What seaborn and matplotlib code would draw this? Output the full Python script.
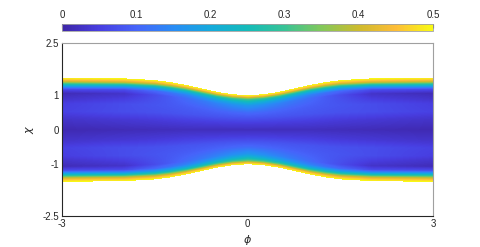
import numpy as np
import matplotlib
matplotlib.use("Agg")
import matplotlib.pyplot as plt
import seaborn as sns

# band half-width in chi versus |phi|
phi_edge = [0.0, 0.25, 0.5, 0.75, 1.0, 1.25, 1.5, 2.0, 3.0]
half_width = [1.0, 1.03, 1.1, 1.2, 1.3, 1.38, 1.44, 1.49, 1.51]

# colour value across the band, at relative height s = |chi| / half-width
s_levels = [0.0, 0.2, 0.35, 0.5, 0.6, 0.7, 0.78, 0.84, 0.88, 0.92, 0.96, 1.0]
prof_phi = [0.0, 1.0, 2.0, 3.0]
prof_0 = [0.02, 0.05, 0.08, 0.11, 0.14, 0.17, 0.22, 0.27, 0.31, 0.38, 0.46, 0.5]
prof_1 = [0.02, 0.05, 0.08, 0.09, 0.10, 0.11, 0.14, 0.20, 0.27, 0.37, 0.46, 0.5]
prof_2 = [0.015, 0.04, 0.07, 0.07, 0.05, 0.03, 0.07, 0.18, 0.28, 0.39, 0.46, 0.5]
prof_3 = [0.01, 0.03, 0.055, 0.05, 0.03, 0.015, 0.07, 0.19, 0.29, 0.39, 0.46, 0.5]

cbar_ticks = [0, 0.1, 0.2, 0.3, 0.4, 0.5]
x_ticks = [-3, 0, 3]
y_ticks = [-2.5, -1, 0, 1, 2.5]

parula_like = ["#3e26a8", "#483ee1", "#4664fa", "#288cf5", "#14aadc",
               "#14bbb9", "#37c396", "#82c85a", "#cdbb2d", "#fdbc37", "#f8fa14"]

sns.set_style("white")
plt.rcParams["font.family"] = ["Liberation Sans", "DejaVu Sans"]
cmap = sns.blend_palette(parula_like, as_cmap=True)

# sample the field on a pixel grid
phi = np.linspace(-3, 3, 742)
chi = np.linspace(-2.5, 2.5, 346)
P = np.array([prof_0, prof_1, prof_2, prof_3])
field = np.full((chi.size, phi.size), np.nan)
for j, p in enumerate(phi):
    a = abs(p)
    w = np.interp(a, phi_edge, half_width)
    col_prof = [np.interp(a, prof_phi, P[:, k]) for k in range(len(s_levels))]
    s = np.abs(chi) / w
    inside = s <= 1.0
    field[inside, j] = np.interp(s[inside], s_levels, col_prof)

fig = plt.figure(figsize=(4.8, 2.47), dpi=100)
ax = fig.add_axes([0.129, 0.1255, 0.773, 0.7])
cax = fig.add_axes([0.129, 0.8745, 0.773, 0.028])

im = ax.imshow(field, origin="lower", extent=[-3, 3, -2.5, 2.5], aspect="auto",
               cmap=cmap, vmin=0, vmax=0.5, interpolation="nearest")

ax.set_xlim(-3, 3)
ax.set_ylim(-2.5, 2.5)
ax.set_xticks(x_ticks)
ax.set_xticklabels([str(t) for t in x_ticks])
ax.set_yticks(y_ticks)
ax.set_yticklabels(["-2.5", "-1", "0", "1", "2.5"])
ax.tick_params(direction="in", length=2, labelsize=7, colors="#262626", pad=2)
ax.set_xlabel(r"$\phi$", fontsize=8, color="#262626", labelpad=3)
ax.set_ylabel(r"$\chi$", fontsize=8, color="#262626", labelpad=5, rotation=90)
for side in ["left", "bottom"]:
    ax.spines[side].set_color("#262626")
    ax.spines[side].set_linewidth(0.8)
for side in ["top", "right"]:
    ax.spines[side].set_color("#a0a0a0")
    ax.spines[side].set_linewidth(0.8)

cb = fig.colorbar(im, cax=cax, orientation="horizontal", ticks=cbar_ticks)
cb.ax.xaxis.set_ticks_position("top")
cb.ax.set_xticklabels(["0", "0.1", "0.2", "0.3", "0.4", "0.5"])
cb.ax.tick_params(direction="in", length=3, labelsize=7, colors="#262626",
                  top=True, bottom=False, labeltop=True, labelbottom=False, pad=3)
cb.outline.set_edgecolor("#a0a0a0")
cb.outline.set_linewidth(0.6)

fig.savefig("out.png", dpi=100)
